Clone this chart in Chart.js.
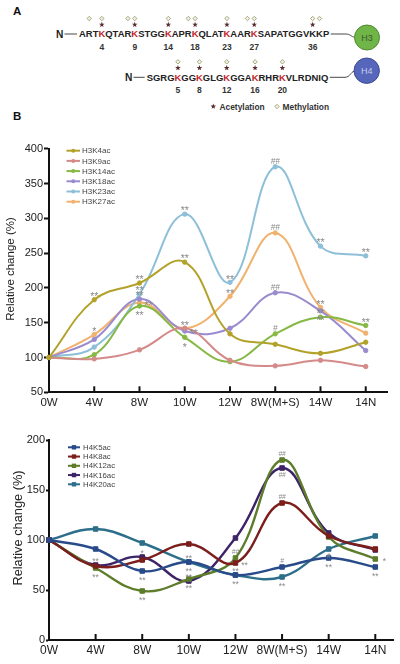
<!DOCTYPE html>
<html><head><meta charset="utf-8">
<script src="https://cdn.jsdelivr.net/npm/chart.js@4.4.0/dist/chart.umd.min.js"></script>
<style>
html,body{margin:0;padding:0;background:#fff;}
body{width:400px;height:664px;position:relative;overflow:hidden;font-family:"Liberation Sans",Arial,sans-serif;}
.box{position:absolute;left:0;width:400px;}
</style></head>
<body>
<svg id="pa" width="400" height="125" style="position:absolute;left:0;top:0" font-family="Liberation Sans, Arial, sans-serif"></svg>
<div class="box" style="top:125px;height:290px"><canvas id="c1" width="400" height="290"></canvas></div>
<div class="box" style="top:420px;height:244px"><canvas id="c2" width="400" height="244"></canvas></div>
<script>
// ---------- DATA ----------
const categories = ['0W','4W','8W','10W','12W','8W(M+S)','14W','14N'];

const h3K4ac  = [100,183,207,237,134,119,106,122];
const h3K9ac  = [100, 98,111,142, 96, 88, 96, 87];
const h3K14ac = [100,104,174,129, 94,134,158,146];
const h3K18ac = [100,126,184,138,142,193,167,110];
const h3K23ac = [100,115,191,306,208,374,260,246];
const h3K27ac = [100,133,179,142,188,279,172,135];
const h3Ticks = [50,100,150,200,250,300,350,400];

const h4K5ac  = [100, 91, 69, 78, 65, 73, 82, 73];
const h4K8ac  = [100, 74, 80, 96, 77,137,104, 91];
const h4K12ac = [100, 72, 49, 61, 82,180,103, 81];
const h4K16ac = [100, 75, 83, 59,102,172,107, 90];
const h4K20ac = [100,111, 97, 78, 65, 63, 91,104];
const h4Ticks = [0,50,100,150,200];

// significance marks: [series, category, text, side]
const h3Marks = [
 ['H3K4ac','4W','**','above'], ['H3K27ac','4W','*','above'],
 ['H3K4ac','8W','**','above'], ['H3K23ac','8W','**','above'], ['H3K18ac','8W','**','above'],
 ['H3K27ac','8W','**','right'], ['H3K14ac','8W','**','below'],
 ['H3K23ac','10W','**','above'], ['H3K4ac','10W','**','above'], ['H3K27ac','10W','**','above'],
 ['H3K18ac','10W','**','right'], ['H3K14ac','10W','*','below'],
 ['H3K23ac','12W','**','above'], ['H3K27ac','12W','**','above'],
 ['H3K23ac','8W(M+S)','##','above'], ['H3K27ac','8W(M+S)','##','above'],
 ['H3K18ac','8W(M+S)','##','above'], ['H3K14ac','8W(M+S)','#','above'],
 ['H3K23ac','14W','**','above'], ['H3K27ac','14W','**','above'],
 ['H3K14ac','14W','**','above'], ['H3K18ac','14W','**','below'],
 ['H3K23ac','14N','**','above'], ['H3K14ac','14N','**','above']
];
const h4Marks = [
 ['H4K16ac','4W','**','above'], ['H4K12ac','4W','**','below'],
 ['H4K16ac','8W','*','above'], ['H4K5ac','8W','**','below'], ['H4K12ac','8W','**','below'],
 ['H4K5ac','10W','**','above'], ['H4K20ac','10W','**','below'],
 ['H4K16ac','10W','**','above'], ['H4K12ac','10W','**','below'],
 ['H4K12ac','12W','##','above'], ['H4K8ac','12W','**','right'],
 ['H4K5ac','12W','**','above'], ['H4K20ac','12W','**','below'],
 ['H4K12ac','8W(M+S)','##','above'], ['H4K16ac','8W(M+S)','##','below'],
 ['H4K8ac','8W(M+S)','##','above'], ['H4K5ac','8W(M+S)','#','above'],
 ['H4K20ac','8W(M+S)','**','below'],
 ['H4K20ac','14W','#','below'], ['H4K5ac','14W','**','below'],
 ['H4K12ac','14N','*','right'], ['H4K5ac','14N','**','below']
];

// panel A sequences
const h3Seq = 'ARTKQTARKSTGGKAPRKQLATKAARKSAPATGGVKKP';
const h3Acetyl = [4,9,14,18,23,27,36];
const h3Methyl = [2,4,8,9,14,17,18,23,26,27,36,37];
const h3Red = [4,9,14,18,23,27];
const h4Seq = 'SGRGKGGKGLGKGGAKRHRKVLRDNIQ';
const h4Acetyl = [5,8,12,16,20];
const h4Methyl = [5,8,12,16,20];
const h4Red = [5,8,12,16,20];

// ---------- PANEL A ----------
const NS='http://www.w3.org/2000/svg';
const svg=document.getElementById('pa');
function el(tag, attrs){const e=document.createElementNS(NS,tag); for(const k in attrs) e.setAttribute(k, attrs[k]); svg.appendChild(e); return e;}
function txt(s, attrs){const e=el('text', attrs); e.textContent=s; return e;}
function star(cx, cy, R){const r=R*0.42; let p=[]; for(let i=0;i<10;i++){const a=-Math.PI/2+i*Math.PI/5; const rr=i%2?r:R; p.push((cx+rr*Math.cos(a)).toFixed(2)+','+(cy+rr*Math.sin(a)).toFixed(2));} return el('polygon',{points:p.join(' '),fill:'#5a2d31'});}
function diamond(cx, cy, h){return el('polygon',{points:`${cx},${cy-h} ${cx+h},${cy} ${cx},${cy+h} ${cx-h},${cy}`,fill:'#f3f3e6',stroke:'#9d9d72','stroke-width':0.9});}

txt('A',{x:13,y:15.3,'font-weight':'bold','font-size':11.5,fill:'#111'});
txt('B',{x:13,y:120,'font-weight':'bold','font-size':11.5,fill:'#111'});

function buildRow(seq, x0, cy, reds, acs, mes, nX, circ, circColor, circStroke, label, labColor){
  txt('N',{x:nX,y:cy+3.7,'font-weight':'bold','font-size':10.2,fill:'#222'});
  el('line',{x1:nX+8.5,y1:cy,x2:x0-2,y2:cy,stroke:'#333','stroke-width':0.9});
  const t=el('text',{x:x0,y:cy+3.38,'font-weight':'bold','font-size':9.45,fill:'#222'});
  for(let i=0;i<seq.length;i++){const sp=document.createElementNS(NS,'tspan'); sp.textContent=seq[i]; if(reds.includes(i+1)) sp.setAttribute('fill','#c3262b'); t.appendChild(sp);}
  const centre=i=>{const e=t.getExtentOfChar(i-1); return e.x+e.width/2;};
  mes.forEach(p=>diamond(centre(p), cy-15.5, 2.2));
  acs.forEach(p=>{const c=centre(p); star(c, cy-9.3, 2.9); txt(String(p),{x:c,y:cy+15.8,'text-anchor':'middle','font-weight':'bold','font-size':8.5,fill:'#333'});});
  const ext=t.getExtentOfChar(seq.length-1); const xe=ext.x+ext.width+1.5;
  const edge=circ[0]-circ[2];
  el('path',{d:`M ${xe} ${cy} L ${edge-9} ${cy} C ${edge-4} ${cy}, ${edge-3} ${circ[1]+(cy-circ[1])*0.15}, ${edge} ${circ[1]+(cy-circ[1])*0.1}`,fill:'none',stroke:'#333','stroke-width':0.9});
  el('circle',{cx:circ[0],cy:circ[1],r:circ[2],fill:circColor,stroke:circStroke,'stroke-width':1});
  txt(label,{x:circ[0],y:circ[1]+3.2,'text-anchor':'middle','font-size':9,fill:labColor});
}
buildRow(h3Seq, 79, 34, h3Red, h3Acetyl, h3Methyl, 56, [367,37.5,12.5], '#70b548', '#4f8a30', 'H3', '#3d5a2c');
buildRow(h4Seq, 146.7, 77.3, h4Red, h4Acetyl, h4Methyl, 125, [366.7,70.7,12.7], '#5566bb', '#3e4c95', 'H4', '#c9cdee');
star(213.3,106.5,2.9);
txt('Acetylation',{x:219.5,y:109.6,'font-weight':'bold','font-size':8.4,fill:'#333'});
diamond(277,106.5,2.2);
txt('Methylation',{x:282.5,y:109.6,'font-weight':'bold','font-size':8.4,fill:'#333'});

// ---------- CHARTS ----------
const FONT='"Liberation Sans", Arial, sans-serif';
function ds(label, values, color, style, radius, width){
  return {label, data: values.map((v,i)=>({x:i,y:v})), borderColor:color, backgroundColor:color,
    pointStyle:style, pointRadius:radius, pointBorderWidth:1, borderWidth:width, tension:0.4, clip:false};
}
const decor = {
  id:'decor',
  afterDatasetsDraw(chart, args, o){
    const ctx=chart.ctx, xs=chart.scales.x, ca=chart.chartArea;
    ctx.save();
    ctx.strokeStyle='#111'; ctx.lineWidth=2;
    categories.forEach((c,i)=>{ if(!i) return; const px=xs.getPixelForValue(i); ctx.beginPath(); ctx.moveTo(px, ca.bottom); ctx.lineTo(px, ca.bottom-o.tick); ctx.stroke(); });
    ctx.fillStyle=o.markColor; ctx.textAlign='center'; ctx.textBaseline='alphabetic';
    o.marks.forEach(([lab,cat,t,side])=>{
      const di=chart.data.datasets.findIndex(d=>d.label===lab); const i=categories.indexOf(cat);
      const pt=chart.getDatasetMeta(di).data[i]; let x=pt.x, y=pt.y;
      if(side==='above') y-=o.off; else if(side==='below') y+=o.off+1; else x+=o.off+3;
      const star = t.includes('*');
      const fs = star ? o.markSize : o.markSize*0.78;
      ctx.font='italic '+fs+'px '+FONT;
      if(star) ctx.font=fs+'px '+FONT;
      ctx.fillText(t, x, y+(star?0.6:0.36)*fs);
    });
    ctx.restore();
  },
  afterDraw(chart, args, o){
    const ctx=chart.ctx; ctx.save();
    chart.data.datasets.forEach((d,k)=>{
      const y=o.legY+k*o.legDy;
      ctx.strokeStyle=d.borderColor; ctx.fillStyle=d.borderColor; ctx.lineWidth=2;
      ctx.beginPath(); ctx.moveTo(o.legX0,y); ctx.lineTo(o.legX1,y); ctx.stroke();
      const cx=(o.legX0+o.legX1)/2;
      if(d.pointStyle==='rect') ctx.fillRect(cx-2.2,y-2.2,4.4,4.4); else {ctx.beginPath(); ctx.arc(cx,y,2,0,Math.PI*2); ctx.fill();}
      ctx.fillStyle='#444'; ctx.font=o.legFont+'px '+FONT; ctx.textAlign='left'; ctx.textBaseline='middle';
      ctx.fillText(d.label, o.legTx, y+0.5);
    });
    ctx.translate(o.titleX, o.titleY); ctx.rotate(-Math.PI/2);
    ctx.fillStyle='#222'; ctx.font=o.titleFont+'px '+FONT; ctx.textAlign='center'; ctx.textBaseline='middle';
    ctx.fillText('Relative change (%)',0,0);
    ctx.restore();
  }
};
function makeChart(id, datasets, cfg){
  return new Chart(document.getElementById(id), {
    type:'line',
    data:{datasets},
    options:{
      responsive:false, animation:false, events:[],
      layout:{padding:{top:cfg.padTop,right:cfg.padRight,left:0,bottom:0}},
      plugins:{legend:{display:false}, tooltip:{enabled:false}, decor:cfg.decor},
      scales:{
        x:{type:'linear', min:0, max:cfg.xMax,
          afterBuildTicks:s=>{s.ticks=categories.map((c,i)=>({value:i}));},
          afterFit:s=>{s.height=cfg.xH;},
          grid:{display:false, drawTicks:false},
          border:{display:true,color:'#111',width:2},
          ticks:{callback:v=>categories[v]??'', color:'#222', font:{size:cfg.xFont,family:FONT}, padding:cfg.xPad, maxRotation:0, autoSkip:false}
        },
        y:{min:cfg.yTicks[0], max:cfg.yTicks[cfg.yTicks.length-1],
          afterBuildTicks:s=>{s.ticks=cfg.yTicks.map(v=>({value:v}));},
          afterFit:s=>{s.width=49;},
          grid:{drawOnChartArea:false, drawTicks:true, tickLength:cfg.yTickLen, tickWidth:2, tickColor:'#111', color:'#111'},
          border:{display:true,color:'#111',width:2},
          ticks:{color:'#222', font:{size:11,family:FONT}, padding:cfg.yPad}
        }
      }
    },
    plugins:[decor]
  });
}

makeChart('c1', [
  ds('H3K4ac', h3K4ac, '#b3a22a','circle',2.2,2),
  ds('H3K9ac', h3K9ac, '#d38a88','circle',2.2,2),
  ds('H3K14ac',h3K14ac,'#86b943','circle',2.2,2),
  ds('H3K18ac',h3K18ac,'#9a8bcf','circle',2.2,2),
  ds('H3K23ac',h3K23ac,'#8dbfd8','circle',2.2,2),
  ds('H3K27ac',h3K27ac,'#f0b26e','circle',2.2,2)
], {padTop:23.7, padRight:13, xH:22.7, xMax:7.47, xFont:11.5, xPad:4, yTicks:h3Ticks, yTickLen:5, yPad:1,
   decor:{tick:6, marks:h3Marks, markColor:'#8a8a8a', markSize:10.5, off:6,
     legX0:66.5, legX1:80, legTx:82, legY:25.7, legDy:10.2, legFont:8,
     titleX:11, titleY:144, titleFont:11.5}});

makeChart('c2', [
  ds('H4K5ac', h4K5ac, '#294b8a','rect',3.2,2.4),
  ds('H4K8ac', h4K8ac, '#7b1e1c','rect',3.2,2.4),
  ds('H4K12ac',h4K12ac,'#5d7d2b','rect',3.2,2.4),
  ds('H4K16ac',h4K16ac,'#3c2466','rect',3.2,2.4),
  ds('H4K20ac',h4K20ac,'#2d6e8a','rect',3.2,2.4)
], {padTop:20, padRight:7, xH:24, xMax:7.38, xFont:12, xPad:3, yTicks:h4Ticks, yTickLen:3, yPad:1,
   decor:{tick:6, marks:h4Marks, markColor:'#8a8a8a', markSize:8.5, off:6,
     legX0:68, legX1:80, legTx:83, legY:27.3, legDy:9.25, legFont:7.8,
     titleX:18.5, titleY:108, titleFont:12.8}});
</script>
</body></html>
